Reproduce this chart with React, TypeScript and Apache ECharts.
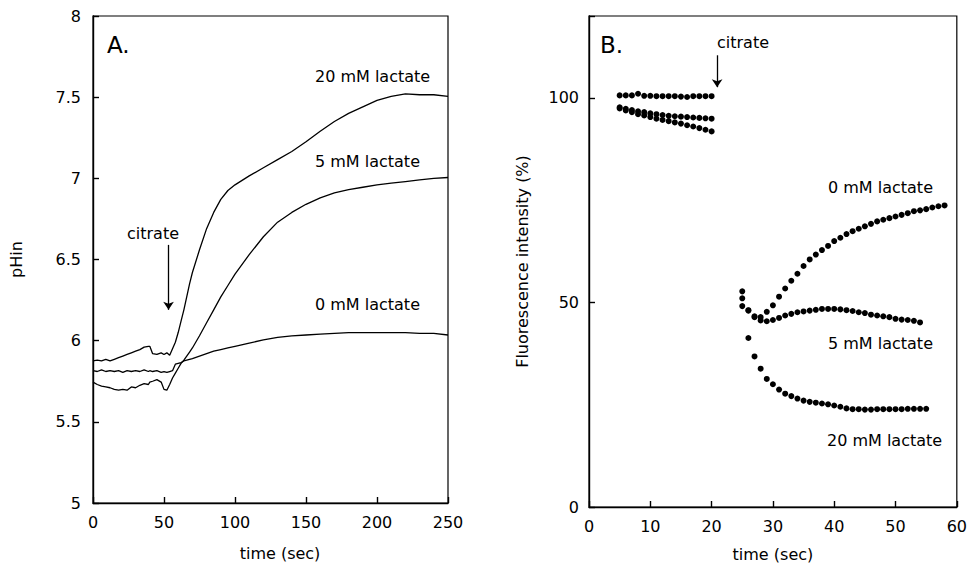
import React, { useEffect, useRef } from "react";
import * as echarts from "echarts";

// ---------- Panel A: pHin vs time ----------
const timeA = [0, 3, 6, 9, 12, 15, 18, 21, 24, 27, 30, 33, 36, 39, 40, 42, 45, 48, 50, 52, 54, 56, 58, 60, 62, 64, 66, 68, 70, 75, 80, 85, 90, 95, 100, 110, 120, 130, 140, 150, 160, 170, 180, 190, 200, 210, 220, 230, 240, 250];
const ph20mM = [5.875, 5.88, 5.875, 5.885, 5.875, 5.885, 5.895, 5.905, 5.915, 5.925, 5.935, 5.945, 5.96, 5.965, 5.965, 5.92, 5.915, 5.925, 5.915, 5.925, 5.91, 5.95, 5.99, 6.05, 6.12, 6.19, 6.27, 6.35, 6.42, 6.56, 6.69, 6.79, 6.87, 6.925, 6.96, 7.015, 7.065, 7.115, 7.165, 7.225, 7.29, 7.35, 7.40, 7.44, 7.48, 7.505, 7.52, 7.515, 7.515, 7.505];
const ph5mM = [5.745, 5.73, 5.72, 5.715, 5.71, 5.70, 5.695, 5.70, 5.695, 5.715, 5.71, 5.725, 5.735, 5.73, 5.745, 5.75, 5.76, 5.745, 5.70, 5.695, 5.73, 5.77, 5.80, 5.83, 5.86, 5.88, 5.905, 5.93, 5.955, 6.03, 6.11, 6.19, 6.27, 6.34, 6.41, 6.53, 6.64, 6.73, 6.79, 6.84, 6.88, 6.91, 6.93, 6.945, 6.96, 6.97, 6.98, 6.99, 7.0, 7.005];
const ph0mM = [5.815, 5.81, 5.82, 5.81, 5.815, 5.81, 5.815, 5.805, 5.815, 5.81, 5.815, 5.81, 5.82, 5.81, 5.815, 5.81, 5.815, 5.805, 5.81, 5.805, 5.81, 5.815, 5.855, 5.86, 5.865, 5.875, 5.88, 5.885, 5.89, 5.905, 5.92, 5.935, 5.945, 5.955, 5.965, 5.985, 6.005, 6.02, 6.03, 6.035, 6.04, 6.045, 6.05, 6.05, 6.05, 6.05, 6.05, 6.045, 6.045, 6.035];

// ---------- Panel B: fluorescence vs time ----------
const timePre = [5, 6, 7, 8, 9, 10, 11, 12, 13, 14, 15, 16, 17, 18, 19, 20];
const fluoPreTop = [100.6, 100.6, 100.6, 101.0, 100.5, 100.5, 100.4, 100.4, 100.4, 100.4, 100.3, 100.2, 100.4, 100.4, 100.4, 100.4];
const fluoPreMid = [97.7, 97.3, 97.0, 96.7, 96.5, 96.2, 96.0, 95.8, 95.6, 95.5, 95.4, 95.3, 95.2, 95.1, 95.0, 94.9];
const fluoPreLow = [97.4, 96.9, 96.5, 96.0, 95.7, 95.3, 94.9, 94.6, 94.3, 94.0, 93.7, 93.3, 93.0, 92.6, 92.2, 91.8];

const time0mM = [25, 26, 27, 28, 29, 30, 31, 32, 33, 34, 35, 36, 37, 38, 39, 40, 41, 42, 43, 44, 45, 46, 47, 48, 49, 50, 51, 52, 53, 54, 55, 56, 57, 58];
const fluo0mM = [52.7, 48.1, 46.6, 46.4, 47.7, 49.3, 51.4, 53.4, 55.3, 57.0, 58.9, 60.5, 61.7, 62.8, 63.8, 65.0, 65.8, 66.7, 67.4, 68.0, 68.6, 69.2, 69.8, 70.2, 70.6, 71.0, 71.4, 71.8, 72.3, 72.5, 72.8, 73.2, 73.5, 73.7];
const time5mM = [25, 26, 27, 28, 29, 30, 31, 32, 33, 34, 35, 36, 37, 38, 39, 40, 41, 42, 43, 44, 45, 46, 47, 48, 49, 50, 51, 52, 53, 54];
const fluo5mM = [51.0, 48.0, 46.4, 45.6, 45.4, 45.7, 46.2, 46.8, 47.2, 47.6, 47.8, 48.0, 48.2, 48.4, 48.4, 48.4, 48.3, 48.1, 47.9, 47.6, 47.4, 47.0, 46.8, 46.6, 46.4, 46.0, 45.8, 45.7, 45.5, 45.1];
const time20mM = [25, 26, 27, 28, 29, 30, 31, 32, 33, 34, 35, 36, 37, 38, 39, 40, 41, 42, 43, 44, 45, 46, 47, 48, 49, 50, 51, 52, 53, 54, 55];
const fluo20mM = [49.1, 41.3, 36.8, 33.8, 31.3, 30.0, 28.7, 27.7, 27.1, 26.5, 26.0, 25.7, 25.5, 25.3, 25.1, 24.8, 24.5, 24.1, 23.9, 23.9, 23.8, 23.8, 23.9, 23.9, 23.9, 23.9, 23.9, 24.0, 24.0, 24.0, 24.0];

// citrate arrows (data coordinates)
const arrowA = [[53.2, 6.59], [53.2, 6.19]];
const arrowB = [[20.9, 110.4], [20.9, 102.6]];

const FONT = '"DejaVu Sans", "Liberation Sans", Arial, sans-serif';

const pairs = (xs: number[], ys: number[]) => xs.map((x, i) => [x, ys[i]]);

const axisCommon = {
  type: "value" as const,
  axisLine: { show: true, lineStyle: { color: "#000", width: 1.4 } },
  axisTick: { show: true, inside: true, length: 6, lineStyle: { color: "#000", width: 1.4 } },
  splitLine: { show: false },
  axisLabel: { color: "#000", fontSize: 16, fontFamily: FONT, margin: 11 },
  nameTextStyle: { color: "#000", fontSize: 16, fontFamily: FONT },
};

const txt = (text: string, x: number, y: number, size = 16) => ({
  type: "text",
  x,
  y,
  silent: true,
  style: { text, fill: "#000", font: `${size}px ${FONT}`, verticalAlign: "middle", align: "left" },
});

export default function App() {
  const ref = useRef<HTMLDivElement>(null);
  useEffect(() => {
    if (!ref.current) return;
    const chart = echarts.init(ref.current, undefined, { renderer: "svg" });
    const lineSeries = (vals: number[]) => ({
      type: "line",
      xAxisIndex: 0,
      yAxisIndex: 0,
      data: pairs(timeA, vals),
      showSymbol: false,
      symbol: "none",
      smooth: false,
      lineStyle: { color: "#000", width: 1.3 },
      silent: true,
    });
    const dotSeries = (xs: number[], ys: number[]) => ({
      type: "scatter",
      xAxisIndex: 1,
      yAxisIndex: 1,
      data: pairs(xs, ys),
      symbol: "circle",
      symbolSize: 6,
      itemStyle: { color: "#000", opacity: 1 },
      silent: true,
    });
    const arrowMark = (pts: number[][]) => ({
      silent: true,
      symbol: ["none", "arrow"],
      symbolSize: 8,
      symbolKeepAspect: false,
      label: { show: false },
      lineStyle: { color: "#000", width: 1.3, type: "solid" },
      itemStyle: { color: "#000" },
      emphasis: { disabled: true },
      data: [[{ coord: pts[0] }, { coord: pts[1] }]],
    });

    const s20 = lineSeries(ph20mM) as any;
    s20.markLine = arrowMark(arrowA);
    const sTop = dotSeries(timePre, fluoPreTop) as any;
    sTop.markLine = arrowMark(arrowB);

    chart.setOption({
      animation: false,
      backgroundColor: "#fff",
      grid: [
        { left: 93, top: 16, width: 355, height: 487, show: true, borderColor: "#000", borderWidth: 1.2, containLabel: false },
        { left: 589, top: 16, width: 370, height: 495, show: true, borderColor: "#000", borderWidth: 1.2, containLabel: false },
      ],
      xAxis: [
        {
          ...axisCommon,
          gridIndex: 0,
          min: 0,
          max: 250,
          interval: 50,
          name: "time (sec)",
          nameLocation: "middle",
          nameGap: 42,
          nameTextStyle: { ...axisCommon.nameTextStyle, padding: [0, 0, 0, 19] },
        },
        {
          ...axisCommon,
          gridIndex: 1,
          min: 0,
          max: 60,
          interval: 10,
          name: "time (sec)",
          nameLocation: "middle",
          nameGap: 39,
        },
      ],
      yAxis: [
        {
          ...axisCommon,
          gridIndex: 0,
          min: 5,
          max: 8,
          interval: 0.5,
          axisLabel: { ...axisCommon.axisLabel, margin: 12 },
          name: "pHin",
          nameLocation: "middle",
          nameGap: 69,
        },
        {
          ...axisCommon,
          gridIndex: 1,
          min: 0,
          max: 120,
          interval: 50,
          axisLabel: {
            ...axisCommon.axisLabel,
            margin: 10,
            formatter: (v: number) => (v > 100 ? "" : String(v)),
          },
          name: "Fluorescence intensity (%)",
          nameLocation: "middle",
          nameGap: 59,
        },
      ],
      series: [
        s20,
        lineSeries(ph5mM),
        lineSeries(ph0mM),
        sTop,
        dotSeries(timePre, fluoPreMid),
        dotSeries(timePre, fluoPreLow),
        dotSeries(time0mM, fluo0mM),
        dotSeries(time5mM, fluo5mM),
        dotSeries(time20mM, fluo20mM),
      ],
      graphic: [
        txt("A.", 107, 45, 23),
        txt("20 mM lactate", 315, 76),
        txt("5 mM lactate", 315, 161),
        txt("citrate", 127, 233),
        txt("0 mM lactate", 315, 304),
        txt("B.", 600, 45, 23),
        txt("citrate", 717, 42),
        txt("0 mM lactate", 828, 187),
        txt("5 mM lactate", 828, 343),
        txt("20 mM lactate", 827, 440),
      ],
    });
    return () => chart.dispose();
  }, []);
  return (
    <div
      ref={ref}
      style={{ position: "fixed", left: 0, top: 0, width: 970, height: 567, background: "#fff" }}
    />
  );
}
